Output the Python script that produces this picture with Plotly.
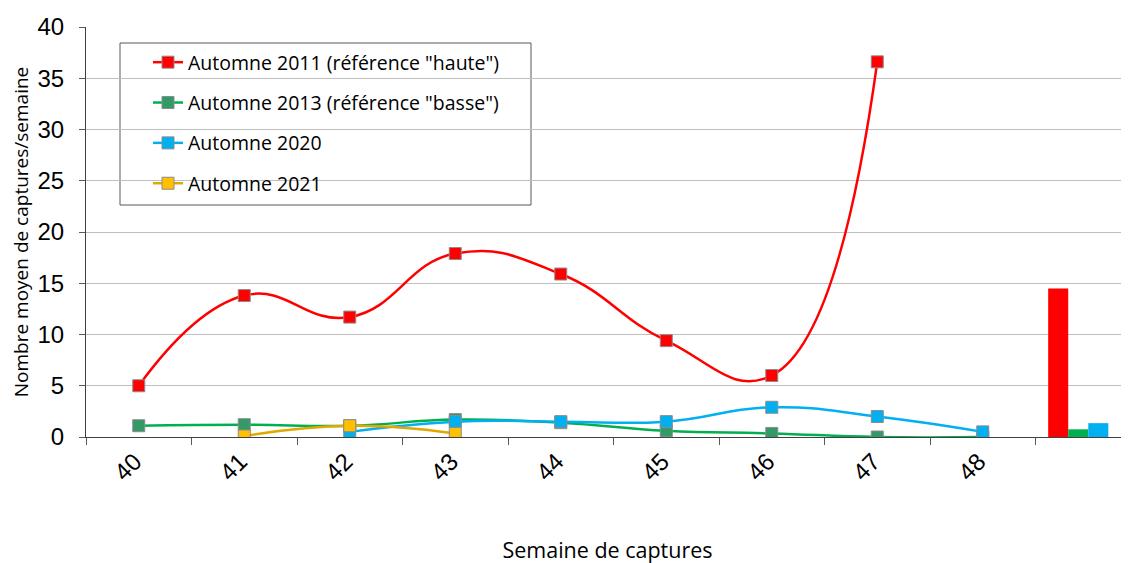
import plotly.graph_objects as go

weeks = ["40", "41", "42", "43", "44", "45", "46", "47", "48"]
mean_cat = " "
series_names = ['Automne 2011 (référence "haute")', 'Automne 2013 (référence "basse")',
                "Automne 2020", "Automne 2021"]
v2011 = [5.0, 13.8, 11.7, 17.9, 15.9, 9.4, 6.0, 36.6, None]
v2013 = [1.1, 1.2, 1.1, 1.7, 1.4, 0.6, 0.35, 0.0, 0.0]
v2020 = [None, None, 0.5, 1.5, 1.5, 1.5, 2.9, 2.0, 0.5]
v2021 = [None, 0.1, 1.1, 0.35, None, None, None, None, None]
means = [14.5, 0.75, 1.35, None]

line_colors = ["#FF0000", "#00B050", "#00B0F0", "#E0A800"]
marker_colors = ["#FF0000", "#339966", "#00B0F0", "#FFC000"]
all_vals = [v2011, v2013, v2020, v2021]

# page body has an 8px margin: plot area placed at page x 86..1129, y 27..437
L, T = 78, 19
PW, PH = 1043, 410

fig = go.Figure()
for i, (name, vals) in enumerate(zip(series_names, all_vals)):
    xs = [w for w, v in zip(weeks, vals) if v is not None]
    ys = [v for v in vals if v is not None]
    fig.add_trace(go.Scatter(
        x=xs, y=ys, name=name, mode="lines+markers",
        line=dict(color=line_colors[i], width=2.5, shape="spline", smoothing=1.3),
        marker=dict(symbol="square", size=12, color=marker_colors[i],
                    line=dict(color="#8C8C8C", width=1)),
        legendgroup=f"g{i}",
    ))

bar_colors = ["#FF0000", "#00B050", "#00B0F0", "#FFC000"]
for i, m in enumerate(means):
    fig.add_trace(go.Bar(x=[mean_cat], y=[m], marker=dict(color=bar_colors[i], line=dict(width=0)),
                         showlegend=False, name=series_names[i]))

fig.add_shape(type="rect", xref="paper", yref="paper",
              x0=(120 - 86) / PW, x1=(531 - 86) / PW,
              y0=(437 - 205) / PH, y1=(437 - 43) / PH,
              line=dict(color="#595959", width=1), fillcolor="white", layer="below")

fig.update_layout(
    width=1129, height=563,
    margin=dict(l=L, r=1129 - L - PW, t=T, b=563 - T - PH, autoexpand=False),
    paper_bgcolor="white", plot_bgcolor="white",
    barmode="group", bargap=0.24, bargroupgap=0,
    font=dict(family="Liberation Sans, Arial", color="black"),
    showlegend=True,
    legend=dict(x=(148 - 86) / PW, y=(437 - 43) / PH, xanchor="left", yanchor="top",
                bgcolor="rgba(0,0,0,0)", borderwidth=0,
                font=dict(family="Open Sans", size=19.5, color="black"),
                tracegroupgap=12, traceorder="grouped", itemwidth=30),
    xaxis=dict(
        type="category", categoryorder="array", categoryarray=weeks + [mean_cat],
        range=[-0.5, 9.386], tickson="boundaries", ticks="outside", ticklen=7,
        tickcolor="#595959", tickangle=-45, showline=True, linecolor="#404040", linewidth=1,
        ticklabelshift=-4,
        tickfont=dict(family="Liberation Sans, Arial", size=24), showgrid=False, automargin=False,
        title=dict(text="Semaine de captures", font=dict(family="Open Sans", size=21.5), standoff=58),
    ),
    yaxis=dict(
        range=[0, 40], dtick=5, ticks="outside", ticklen=6, tickcolor="#595959",
        showline=True, linecolor="#404040", linewidth=1, showgrid=True, gridcolor="#BFBFBF",
        ticklabelstandoff=10,
        tickfont=dict(family="Liberation Sans, Arial", size=24), zeroline=False, automargin=False,
        title=dict(text="Nombre moyen de captures/semaine", font=dict(family="Open Sans", size=19), standoff=7),
    ),
)

fig.write_html("out.html")
